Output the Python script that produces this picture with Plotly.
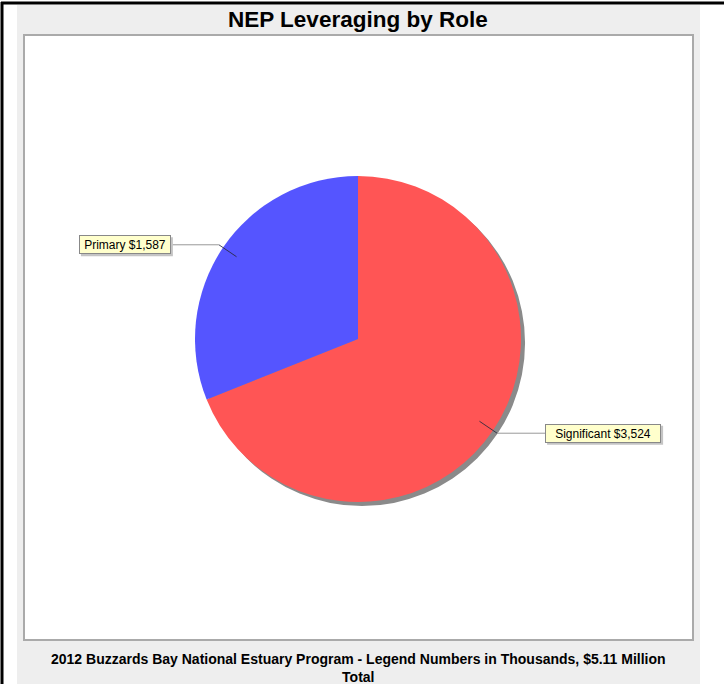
import math
import plotly.graph_objects as go

# ---- data ----
labels = ["Significant", "Primary"]
values = [3524, 1587]
colors = ["#FF5555", "#5555FF"]
title_text = "NEP Leveraging by Role"
caption_text = "2012 Buzzards Bay National Estuary Program - Legend Numbers in Thousands, $5.11 Million<br>Total"

# ---- layout geometry (pixels) ----
W, H = 724, 684
CX, CY, R = 358, 339, 163   # pie centre (from top) and radius
SH = 4                      # shadow offset
FONT = "Liberation Sans, Arial"


def px_x(x):
    return x / W


def px_y(y):
    return 1 - y / H


def domain(cx, cy, r):
    return dict(x=[px_x(cx - r), px_x(cx + r)], y=[px_y(cy + r), px_y(cy - r)])


fig = go.Figure()

# shadow pie
fig.add_trace(go.Pie(
    values=[sum(values)], labels=["shadow"], marker=dict(colors=["#8A8A8A"], line=dict(width=0)),
    domain=domain(CX + SH, CY + SH, R), textinfo="none", hoverinfo="skip",
    showlegend=False, sort=False,
))

# main pie
fig.add_trace(go.Pie(
    values=values, labels=labels, marker=dict(colors=colors, line=dict(width=0)),
    domain=domain(CX, CY, R), textinfo="none", sort=False, direction="clockwise",
    rotation=0, showlegend=False,
))

shapes = [
    # grey panel
    dict(type="rect", xref="paper", yref="paper", x0=px_x(17), x1=px_x(700), y0=px_y(684), y1=px_y(5),
         fillcolor="#EEEEEE", line=dict(width=0), layer="below"),
    # black outer borders
    dict(type="line", xref="paper", yref="paper", x0=px_x(2), x1=px_x(2), y0=0, y1=px_y(2),
         line=dict(color="black", width=3)),
    dict(type="line", xref="paper", yref="paper", x0=px_x(1), x1=1, y0=px_y(3), y1=px_y(3),
         line=dict(color="black", width=3)),
    # plot box
    dict(type="rect", xref="paper", yref="paper", x0=px_x(24), x1=px_x(693), y0=px_y(640), y1=px_y(35),
         fillcolor="white", line=dict(color="#AAAAAA", width=2), layer="below"),
]

annotations = [
    dict(text="<b>" + title_text + "</b>", xref="paper", yref="paper", x=px_x(358), y=px_y(20),
         showarrow=False, font=dict(family=FONT, size=22.5, color="black"),
         xanchor="center", yanchor="middle"),
    dict(text="<b>" + caption_text + "</b>", xref="paper", yref="paper", x=px_x(358), y=px_y(668),
         showarrow=False, font=dict(family=FONT, size=14, color="black"),
         xanchor="center", yanchor="middle"),
]

total = sum(values)
start = 0.0
for lab, val in zip(labels, values):
    frac = val / total
    mid = (start + frac / 2) * 2 * math.pi
    start += frac
    sx, sy = math.sin(mid), -math.cos(mid)
    x_in, y_in = CX + 0.9 * R * sx, CY + 0.9 * R * sy
    x_out, y_out = CX + (R + 5) * sx, CY + (R + 5) * sy
    side = 1 if sx >= 0 else -1
    x_end = x_out + side * 48
    shapes.append(dict(type="line", xref="paper", yref="paper", x0=px_x(x_in), y0=px_y(y_in),
                       x1=px_x(x_out), y1=px_y(y_out), line=dict(color="rgba(40,40,60,0.85)", width=1)))
    shapes.append(dict(type="line", xref="paper", yref="paper", x0=px_x(x_out), y0=px_y(y_out),
                       x1=px_x(x_end), y1=px_y(y_out), line=dict(color="#999999", width=1)))
    txt = f"{lab} ${val:,}"
    anchor = "left" if side > 0 else "right"
    # approximate box size for drop shadow
    bw = len(txt) * 6.0 + 8
    bh = 19
    bx0 = x_end if side > 0 else x_end - bw
    shapes.append(dict(type="rect", xref="paper", yref="paper",
                       x0=px_x(bx0 + 2), x1=px_x(bx0 + bw + 2),
                       y0=px_y(y_out + bh / 2 + 2), y1=px_y(y_out - bh / 2 + 2),
                       fillcolor="#C4C4C4", line=dict(width=0)))
    annotations.append(dict(text=txt, xref="paper", yref="paper", x=px_x(x_end), y=px_y(y_out),
                            showarrow=False, xanchor=anchor, yanchor="middle", width=bw - 2, height=bh - 2,
                            align="center", valign="middle",
                            font=dict(family=FONT, size=12, color="black"),
                            bgcolor="#FFFFCC", bordercolor="#888888", borderwidth=1, borderpad=0))

fig.update_layout(
    width=W, height=H, margin=dict(l=0, r=0, t=0, b=0),
    paper_bgcolor="white", plot_bgcolor="white",
    shapes=shapes, annotations=annotations, showlegend=False,
)

fig.write_html("out.html", config={"displayModeBar": False},
               post_script="document.body.style.margin='0px';")
